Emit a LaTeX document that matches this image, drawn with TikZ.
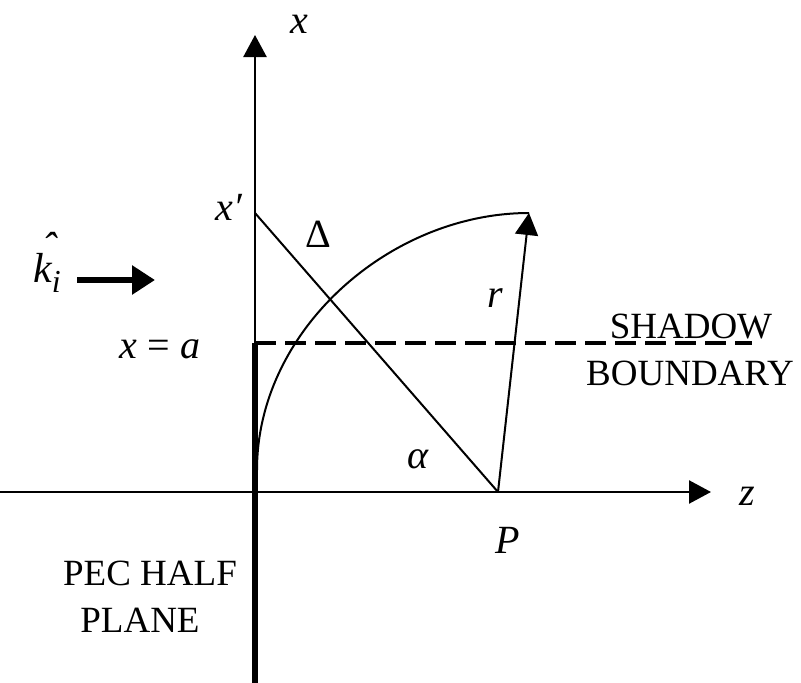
\documentclass[tikz,border=0pt]{standalone}
\usepackage{fontspec}
\setmainfont{Liberation Serif}
\usetikzlibrary{arrows.meta}
\begin{document}
\begin{tikzpicture}[x=1pt,y=-1pt,
  lbl/.style={inner sep=0pt, anchor=base, font=\fontsize{40}{40}\selectfont\itshape},
  txt/.style={inner sep=0pt, anchor=base, font=\fontsize{37}{37}\selectfont},
  axisline/.style={line width=2.4pt},
  fineline/.style={line width=2pt},
  bigtip/.style={-{Triangle[length=22pt,width=23pt]}},
  pecline/.style={line width=5.5pt},
  sbline/.style={line width=3.5pt, dash pattern=on 21pt off 9pt}
]
\useasboundingbox (0,0) rectangle (801,683);
% key points
\coordinate (ybot) at (255,683);
\coordinate (ytop) at (255,35);
\coordinate (zleft) at (0,492);
\coordinate (ztip) at (711,492);
\coordinate (P) at (498,492);
\coordinate (xp) at (255,213);
\coordinate (rtip) at (529,213);
\coordinate (sb0) at (255,343);
\coordinate (sb1) at (752,343);
\coordinate (cstart) at (257,470);
\coordinate (kA) at (77,280);
\coordinate (kB) at (155,280);
% axes
\draw[axisline,bigtip] (ybot) -- (ytop);
\draw[axisline,bigtip] (zleft) -- (ztip);
% PEC half plane
\draw[pecline] (sb0) -- (ybot);
% shadow boundary
\draw[sbline] (sb0) -- (sb1);
% diagonal
\draw[fineline] (xp) -- (P);
% curve
\draw[fineline] (cstart) .. controls (257,330) and (390,213) .. (rtip);
% r vector
\draw[fineline,bigtip] (P) -- (rtip);
% incident arrow
\draw[line width=6pt,-{Triangle[length=23pt,width=28pt]}] (kA) -- (kB);
% labels
\node[lbl] (lx) at (299,33) {x};
\node[lbl] (lxp) at (229,220) {x′};
\node[lbl] (ldelta) at (318,247) {\upshape Δ};
\node[lbl] (lxa) at (160,358) {x \upshape= \itshape a};
\node[lbl] (lalpha) at (418,468) {α};
\node[lbl] (lr) at (495,307) {r};
\node[lbl] (lP) at (508,553) {P};
\node[lbl] (lz) at (747,505) {z};
\node[lbl,anchor=base west,font=\fontsize{42}{42}\selectfont\itshape] (lk) at (33,282)
  {\rlap{\kern0.22em\raisebox{0.5em}{\char"02C6}}k\raisebox{-0.26em}{\fontsize{32}{32}\selectfont i}};
\node[txt] (lsh) at (691,338) {SHADOW};
\node[txt] (lbd) at (690,385) {BOUNDARY};
\node[txt] (lpec) at (150,585) {PEC HALF};
\node[txt] (lpl) at (140,632) {PLANE};
\end{tikzpicture}
\end{document}
